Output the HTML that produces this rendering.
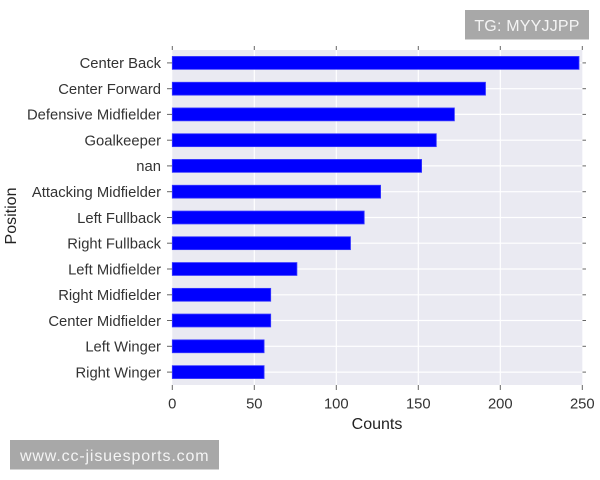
<!DOCTYPE html>
<html>
<head>
<meta charset="utf-8">
<style>
html,body{margin:0;padding:0;background:#fff;}
svg{display:block;}
text{font-family:"Liberation Sans",Arial,sans-serif;}
</style>
</head>
<body>
<svg width="600" height="480" viewBox="0 0 600 480" xmlns="http://www.w3.org/2000/svg">
  <rect x="0" y="0" width="600" height="480" fill="#ffffff"/>
  <rect x="172.3" y="50" width="410" height="335" fill="#eaeaf2"/>
  <g stroke="#ffffff" stroke-width="1.2">
    <line x1="254.3" y1="50" x2="254.3" y2="385"/>
    <line x1="336.3" y1="50" x2="336.3" y2="385"/>
    <line x1="418.3" y1="50" x2="418.3" y2="385"/>
    <line x1="500.3" y1="50" x2="500.3" y2="385"/>
  </g>
  <g stroke="#ffffff" stroke-width="1.2">
    <line x1="172.3" y1="62.9" x2="582.3" y2="62.9"/>
    <line x1="172.3" y1="88.7" x2="582.3" y2="88.7"/>
    <line x1="172.3" y1="114.4" x2="582.3" y2="114.4"/>
    <line x1="172.3" y1="140.2" x2="582.3" y2="140.2"/>
    <line x1="172.3" y1="165.9" x2="582.3" y2="165.9"/>
    <line x1="172.3" y1="191.7" x2="582.3" y2="191.7"/>
    <line x1="172.3" y1="217.5" x2="582.3" y2="217.5"/>
    <line x1="172.3" y1="243.2" x2="582.3" y2="243.2"/>
    <line x1="172.3" y1="269.0" x2="582.3" y2="269.0"/>
    <line x1="172.3" y1="294.8" x2="582.3" y2="294.8"/>
    <line x1="172.3" y1="320.5" x2="582.3" y2="320.5"/>
    <line x1="172.3" y1="346.3" x2="582.3" y2="346.3"/>
    <line x1="172.3" y1="372.1" x2="582.3" y2="372.1"/>
  </g>
  <g fill="#0000ff" stroke="#3a3aff" stroke-width="0.8">
    <rect x="172.3" y="56.45" width="406.7" height="12.9"/>
    <rect x="172.3" y="82.25" width="313.2" height="12.9"/>
    <rect x="172.3" y="107.95" width="282.1" height="12.9"/>
    <rect x="172.3" y="133.75" width="264.0" height="12.9"/>
    <rect x="172.3" y="159.45" width="249.3" height="12.9"/>
    <rect x="172.3" y="185.25" width="208.3" height="12.9"/>
    <rect x="172.3" y="211.05" width="191.9" height="12.9"/>
    <rect x="172.3" y="236.75" width="178.2" height="12.9"/>
    <rect x="172.3" y="262.55" width="124.6" height="12.9"/>
    <rect x="172.3" y="288.35" width="98.4" height="12.9"/>
    <rect x="172.3" y="314.05" width="98.4" height="12.9"/>
    <rect x="172.3" y="339.85" width="91.8" height="12.9"/>
    <rect x="172.3" y="365.65" width="91.8" height="12.9"/>
  </g>
  <g stroke="#666" stroke-width="1">
    <line x1="167" y1="62.9" x2="172" y2="62.9"/>
    <line x1="167" y1="88.7" x2="172" y2="88.7"/>
    <line x1="167" y1="114.4" x2="172" y2="114.4"/>
    <line x1="167" y1="140.2" x2="172" y2="140.2"/>
    <line x1="167" y1="165.9" x2="172" y2="165.9"/>
    <line x1="167" y1="191.7" x2="172" y2="191.7"/>
    <line x1="167" y1="217.5" x2="172" y2="217.5"/>
    <line x1="167" y1="243.2" x2="172" y2="243.2"/>
    <line x1="167" y1="269.0" x2="172" y2="269.0"/>
    <line x1="167" y1="294.8" x2="172" y2="294.8"/>
    <line x1="167" y1="320.5" x2="172" y2="320.5"/>
    <line x1="167" y1="346.3" x2="172" y2="346.3"/>
    <line x1="167" y1="372.1" x2="172" y2="372.1"/>
    <line x1="582.5" y1="62.9" x2="586" y2="62.9"/>
    <line x1="582.5" y1="88.7" x2="586" y2="88.7"/>
    <line x1="582.5" y1="114.4" x2="586" y2="114.4"/>
    <line x1="582.5" y1="140.2" x2="586" y2="140.2"/>
    <line x1="582.5" y1="165.9" x2="586" y2="165.9"/>
    <line x1="582.5" y1="191.7" x2="586" y2="191.7"/>
    <line x1="582.5" y1="217.5" x2="586" y2="217.5"/>
    <line x1="582.5" y1="243.2" x2="586" y2="243.2"/>
    <line x1="582.5" y1="269.0" x2="586" y2="269.0"/>
    <line x1="582.5" y1="294.8" x2="586" y2="294.8"/>
    <line x1="582.5" y1="320.5" x2="586" y2="320.5"/>
    <line x1="582.5" y1="346.3" x2="586" y2="346.3"/>
    <line x1="582.5" y1="372.1" x2="586" y2="372.1"/>
    <line x1="172.3" y1="385" x2="172.3" y2="390"/>
    <line x1="254.3" y1="385" x2="254.3" y2="390"/>
    <line x1="336.3" y1="385" x2="336.3" y2="390"/>
    <line x1="418.3" y1="385" x2="418.3" y2="390"/>
    <line x1="500.3" y1="385" x2="500.3" y2="390"/>
    <line x1="582.3" y1="385" x2="582.3" y2="390"/>
    <line x1="172.3" y1="46" x2="172.3" y2="50"/>
    <line x1="254.3" y1="46" x2="254.3" y2="50"/>
    <line x1="336.3" y1="46" x2="336.3" y2="50"/>
    <line x1="418.3" y1="46" x2="418.3" y2="50"/>
    <line x1="500.3" y1="46" x2="500.3" y2="50"/>
    <line x1="582.3" y1="46" x2="582.3" y2="50"/>
  </g>
  <g font-size="14.8" fill="#333" text-anchor="end">
    <text x="161" y="68.2">Center Back</text>
    <text x="161" y="94.0">Center Forward</text>
    <text x="161" y="119.7">Defensive Midfielder</text>
    <text x="161" y="145.5">Goalkeeper</text>
    <text x="161" y="171.2">nan</text>
    <text x="161" y="197.0">Attacking Midfielder</text>
    <text x="161" y="222.8">Left Fullback</text>
    <text x="161" y="248.5">Right Fullback</text>
    <text x="161" y="274.3">Left Midfielder</text>
    <text x="161" y="300.1">Right Midfielder</text>
    <text x="161" y="325.8">Center Midfielder</text>
    <text x="161" y="351.6">Left Winger</text>
    <text x="161" y="377.4">Right Winger</text>
  </g>
  <g font-size="14.8" fill="#333" text-anchor="middle">
    <text x="172.3" y="408.3">0</text>
    <text x="254.3" y="408.3">50</text>
    <text x="336.3" y="408.3">100</text>
    <text x="418.3" y="408.3">150</text>
    <text x="500.3" y="408.3">200</text>
    <text x="582.3" y="408.3">250</text>
  </g>
  <text x="377" y="429" font-size="16" fill="#222" text-anchor="middle">Counts</text>
  <text x="0" y="0" font-size="16" fill="#222" text-anchor="middle" transform="translate(16,216) rotate(-90)">Position</text>
  <rect x="465" y="10" width="124" height="29.5" fill="#a8a8a8"/>
  <text x="527" y="31" font-size="16" fill="#f4f4f4" text-anchor="middle" letter-spacing="0.2">TG: MYYJJPP</text>
  <rect x="10" y="440" width="209" height="29.5" fill="#a8a8a8"/>
  <text x="20" y="461" font-size="16" fill="#f4f4f4" letter-spacing="0.85">www.cc-jisuesports.com</text>
</svg>
</body>
</html>
